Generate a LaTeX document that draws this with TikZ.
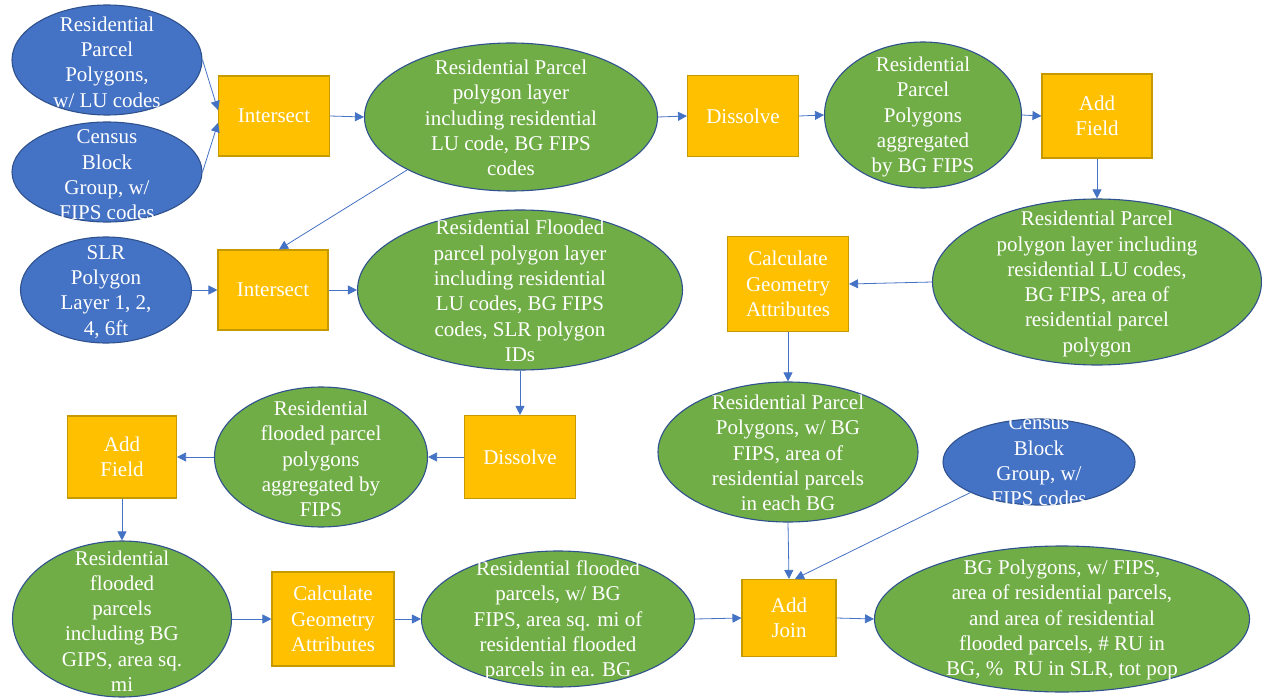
\documentclass[tikz,border=0pt]{standalone}
\usepackage{fontspec}
\setmainfont{Liberation Serif}
\usetikzlibrary{shapes.geometric,arrows.meta}
\definecolor{dataBlue}{HTML}{4472C4}
\definecolor{dataGreen}{HTML}{70AD47}
\definecolor{toolGold}{HTML}{FFC000}
\definecolor{rimBlue}{HTML}{2F528F}
\definecolor{rimGold}{HTML}{C49A00}
\definecolor{flowBlue}{HTML}{4472C4}
\tikzset{
  txtfont/.style={font=\fontsize{21}{25.3}\selectfont},
  inputdata/.style={ellipse, draw=rimBlue, line width=1.1pt, fill=dataBlue, inner sep=0pt},
  layerdata/.style={ellipse, draw=rimBlue, line width=1.1pt, fill=dataGreen, inner sep=0pt},
  tool/.style={rectangle, draw=rimGold, line width=1.1pt, fill=toolGold, text=white,
               txtfont, align=center, inner sep=0pt},
  caption/.style={text=white, txtfont, align=center, inner sep=0pt},
  flow/.style={draw=flowBlue, line width=0.8pt, -{Triangle[length=9pt,width=9pt]}}
}
\begin{document}
\begin{tikzpicture}[x=1pt,y=-1pt]
\useasboundingbox (0,0) rectangle (1262,698);

% ---- source layers (blue) ----
\node[inputdata, minimum width=190pt, minimum height=110pt] (a1) at (107,60) {};
\node[caption] (a1t) at (107,62) {Residential\\Parcel\\Polygons,\\w/ LU codes};
\node[inputdata, minimum width=190pt, minimum height=100pt] (a2) at (107,172) {};
\node[caption] (a2t) at (107,175) {Census\\Block\\Group, w/\\FIPS codes};
\node[inputdata, minimum width=171pt, minimum height=106pt] (a3) at (106,290) {};
\node[caption] (a3t) at (106,292) {SLR\\Polygon\\Layer 1, 2,\\4, 6ft};
\node[inputdata, minimum width=192pt, minimum height=86pt] (a4) at (1039,462) {};
\node[caption] (a4t) at (1039,461) {Census\\Block\\Group, w/\\FIPS codes};

% ---- geoprocessing tools (gold) ----
\node[tool, minimum width=111pt, minimum height=80pt] (int1) at (274,116) {Intersect};
\node[tool, minimum width=111pt, minimum height=81pt] (dis1) at (743,116) {Dissolve};
\node[tool, minimum width=110pt, minimum height=84pt] (af1) at (1097,116) {Add\\Field};
\node[tool, minimum width=121pt, minimum height=95pt] (calc1) at (788,284) {Calculate\\Geometry\\Attributes};
\node[tool, minimum width=110pt, minimum height=80pt] (int2) at (273,290) {Intersect};
\node[tool, minimum width=111pt, minimum height=83pt] (dis2) at (520,457) {Dissolve};
\node[tool, minimum width=109pt, minimum height=82pt] (af2) at (122,457) {Add\\Field};
\node[tool, minimum width=122pt, minimum height=94pt] (calc2) at (333,619) {Calculate\\Geometry\\Attributes};
\node[tool, minimum width=94pt, minimum height=77pt] (join) at (789,618) {Add\\Join};

% ---- derived layers (green) ----
\node[layerdata, minimum width=293pt, minimum height=148pt] (b1) at (511,117) {};
\node[caption] (b1t) at (511,118) {Residential Parcel\\polygon layer\\including residential\\LU code, BG FIPS\\codes};
\node[layerdata, minimum width=197pt, minimum height=146pt] (b2) at (923,115) {};
\node[caption] (b2t) at (923,117) {Residential\\Parcel\\Polygons\\aggregated\\by BG FIPS};
\node[layerdata, minimum width=329pt, minimum height=166pt] (b3) at (1097,282) {};
\node[caption] (b3t) at (1097,284) {Residential Parcel\\polygon layer including\\residential LU codes,\\BG FIPS, area of\\residential parcel\\polygon};
\node[layerdata, minimum width=260pt, minimum height=140pt] (b4) at (788,452) {};
\node[caption] (b4t) at (788,453) {Residential Parcel\\Polygons, w/ BG\\FIPS, area of\\residential parcels\\in each BG};
\node[layerdata, minimum width=325pt, minimum height=160pt] (b5) at (520,290) {};
\node[caption] (b5t) at (520,291) {Residential Flooded\\parcel polygon layer\\including residential\\LU codes, BG FIPS\\codes, SLR polygon\\IDs};
\node[layerdata, minimum width=213pt, minimum height=140pt] (b6) at (321,457) {};
\node[caption] (b6t) at (321,459) {Residential\\flooded parcel\\polygons\\aggregated by\\FIPS};
\node[layerdata, minimum width=219pt, minimum height=156pt] (b7) at (122,619) {};
\node[caption] (b7t) at (122,621) {Residential\\flooded\\parcels\\including BG\\GIPS, area sq.\\mi};
\node[layerdata, minimum width=273pt, minimum height=136pt] (b8) at (558,619) {};
\node[caption] (b8t) at (558,621) {Residential flooded\\parcels, w/ BG\\FIPS, area sq. mi of\\residential flooded\\parcels in ea. BG};
\node[layerdata, minimum width=375pt, minimum height=146pt] (b9) at (1062,619) {};
\node[caption] (b9t) at (1062,620) {BG Polygons, w/ FIPS,\\area of residential parcels,\\and area of residential\\flooded parcels, \# RU in\\BG, \%\ \ RU in SLR, tot pop};

% ---- connectors ----
\draw[flow] (a1.east) -- ([yshift=6pt]int1.west);
\draw[flow] (a2.east) -- ([yshift=-7pt]int1.west);
\draw[flow] (int1.east) -- (b1.west);
\draw[flow] (b1.east) -- (dis1.west);
\draw[flow] (dis1.east) -- (b2.west);
\draw[flow] (b2.east) -- (af1.west);
\draw[flow] (af1.south) -- (b3.north);
\draw[flow] (b3.west) -- (calc1.east);
\draw[flow] (calc1.south) -- (b4.north);
\draw[flow] (b4.south) -- (join.north);
\draw[flow] (a4.204) -- ([xshift=6pt]join.north);
\draw[flow] (b1.207) -- ([xshift=6pt]int2.north);
\draw[flow] (a3.east) -- (int2.west);
\draw[flow] (int2.east) -- (b5.west);
\draw[flow] (b5.south) -- (dis2.north);
\draw[flow] (dis2.west) -- (b6.east);
\draw[flow] (b6.west) -- (af2.east);
\draw[flow] (af2.south) -- (b7.north);
\draw[flow] (b7.east) -- (calc2.west);
\draw[flow] (calc2.east) -- (b8.west);
\draw[flow] (b8.east) -- (join.west);
\draw[flow] (join.east) -- (b9.west);
\end{tikzpicture}
\end{document}
